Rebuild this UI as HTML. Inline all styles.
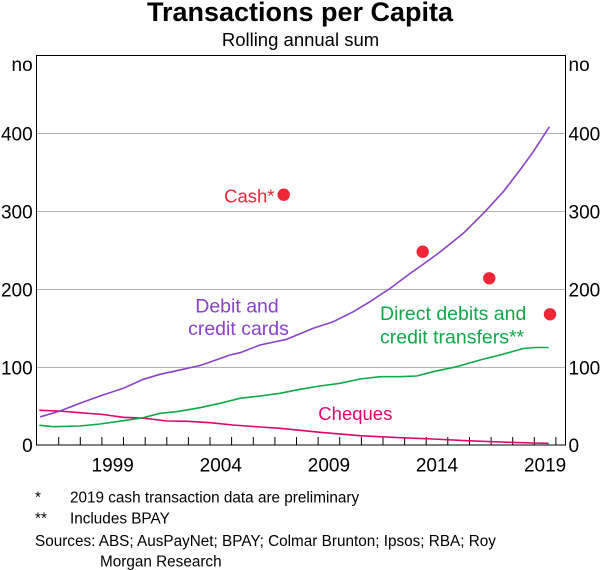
<!DOCTYPE html>
<html>
<head>
<meta charset="utf-8">
<style>
  html, body { margin: 0; padding: 0; background: #ffffff; }
  svg { display: block; }
  text { font-family: "Liberation Sans", Arial, sans-serif; }
</style>
</head>
<body>
<svg width="600" height="570" viewBox="0 0 600 570" xmlns="http://www.w3.org/2000/svg">
  <rect x="0" y="0" width="600" height="570" fill="#ffffff"/>

  <!-- Title -->
  <text x="300" y="21" text-anchor="middle" font-size="27" font-weight="bold" fill="#000">Transactions per Capita</text>
  <text x="300.5" y="46" text-anchor="middle" font-size="18.5" fill="#000">Rolling annual sum</text>

  <!-- Gridlines -->
  <g stroke="#b3b3b3" stroke-width="1">
    <line x1="36.5" y1="133.5" x2="565.5" y2="133.5"/>
    <line x1="36.5" y1="211.5" x2="565.5" y2="211.5"/>
    <line x1="36.5" y1="289.5" x2="565.5" y2="289.5"/>
    <line x1="36.5" y1="367.5" x2="565.5" y2="367.5"/>
  </g>

  <!-- Ticks -->
  <g stroke="#000" stroke-width="1">
    <line x1="58.7" y1="445" x2="58.7" y2="437"/>
    <line x1="80.3" y1="445" x2="80.3" y2="437"/>
    <line x1="101.9" y1="445" x2="101.9" y2="437"/>
    <line x1="123.5" y1="445" x2="123.5" y2="437"/>
    <line x1="145.2" y1="445" x2="145.2" y2="437"/>
    <line x1="166.8" y1="445" x2="166.8" y2="437"/>
    <line x1="188.4" y1="445" x2="188.4" y2="437"/>
    <line x1="210.0" y1="445" x2="210.0" y2="437"/>
    <line x1="231.6" y1="445" x2="231.6" y2="437"/>
    <line x1="253.3" y1="445" x2="253.3" y2="437"/>
    <line x1="274.9" y1="445" x2="274.9" y2="437"/>
    <line x1="296.5" y1="445" x2="296.5" y2="437"/>
    <line x1="318.1" y1="445" x2="318.1" y2="437"/>
    <line x1="339.7" y1="445" x2="339.7" y2="437"/>
    <line x1="361.4" y1="445" x2="361.4" y2="437"/>
    <line x1="383.0" y1="445" x2="383.0" y2="437"/>
    <line x1="404.6" y1="445" x2="404.6" y2="437"/>
    <line x1="426.2" y1="445" x2="426.2" y2="437"/>
    <line x1="447.8" y1="445" x2="447.8" y2="437"/>
    <line x1="469.5" y1="445" x2="469.5" y2="437"/>
    <line x1="491.1" y1="445" x2="491.1" y2="437"/>
    <line x1="512.7" y1="445" x2="512.7" y2="437"/>
    <line x1="534.3" y1="445" x2="534.3" y2="437"/>
    <line x1="555.9" y1="445" x2="555.9" y2="437"/>
  </g>

  <!-- Series -->
  <g fill="none" stroke-width="1.6" stroke-linejoin="round" stroke-linecap="round">
    <!-- Cheques -->
    <polyline stroke="#e0046a" points="40,410.3 58.7,411 80,412.7 103,414.5 123.3,417.3 145,418.3 166.7,421 187.5,421.3 210,422.7 233,425 260,427 280,428.3 320,432.3 360,435.7 400,437.7 433,439 466.7,440.7 500,442 533,443 548,443.3"/>
    <!-- Direct debits -->
    <polyline stroke="#10a94a" points="40,425.3 53.3,426.7 80,426 100,424 123.3,420.7 143.3,417.7 160,413.3 176.7,411.7 200,407.7 220,403.3 240,398.3 260,396 280,393.3 300,389.3 320,386 340,383.3 360,379 380,376.7 400,376.7 416.7,376 433.3,371.7 456.7,366.7 480,360 500,355 523.3,348.5 535,347.5 548,347.5"/>
    <!-- Cards -->
    <polyline stroke="#8a42c8" points="40.7,416.7 60,411 80,403.3 100,396 123.3,388.3 143.3,379.3 160,374.3 176.7,370.7 200,365.5 206.7,363.3 230,355 240,352.7 260,345 286.7,339.3 313.3,328.3 333.3,321.7 353.3,311.7 370,301.7 380,295 390,288.5 410,273.5 425,263 440,252 463.3,233.3 485,211.7 503.3,191.7 520,170 533.3,151.7 549,127.3"/>
  </g>

  <!-- Cash dots -->
  <g fill="#ee2636">
    <circle cx="283.7" cy="194.7" r="6.2"/>
    <circle cx="422.7" cy="251.7" r="6.2"/>
    <circle cx="489.3" cy="278.3" r="6.2"/>
    <circle cx="550" cy="314.3" r="6.2"/>
  </g>

  <!-- Plot border -->
  <rect x="36.5" y="55.5" width="529" height="389.5" fill="none" stroke="#000" stroke-width="1"/>

  <!-- Series labels -->
  <text x="274.5" y="202.3" text-anchor="end" font-size="18.5" fill="#ee2636">Cash*</text>
  <text x="237" y="312.3" text-anchor="middle" font-size="19.5" fill="#8a42c8">Debit and</text>
  <text x="238.5" y="335" text-anchor="middle" font-size="19.5" fill="#8a42c8">credit cards</text>
  <text x="380" y="320" font-size="19.5" fill="#10a94a">Direct debits and</text>
  <text x="380" y="343.5" font-size="19.5" fill="#10a94a">credit transfers**</text>
  <text x="318.3" y="420" font-size="18.5" fill="#e0046a">Cheques</text>

  <!-- Y axis labels left -->
  <g font-size="19" fill="#000" text-anchor="end">
    <text x="32.7" y="71">no</text>
    <text x="32.7" y="140.5">400</text>
    <text x="32.7" y="218.5">300</text>
    <text x="32.7" y="296.5">200</text>
    <text x="32.7" y="374.5">100</text>
    <text x="32.7" y="452">0</text>
  </g>
  <!-- Y axis labels right -->
  <g font-size="19" fill="#000" text-anchor="start">
    <text x="568.5" y="71">no</text>
    <text x="568.5" y="140.5">400</text>
    <text x="568.5" y="218.5">300</text>
    <text x="568.5" y="296.5">200</text>
    <text x="568.5" y="374.5">100</text>
    <text x="568.5" y="452">0</text>
  </g>

  <!-- X axis labels -->
  <g font-size="19" fill="#000" text-anchor="middle">
    <text x="112.7" y="471.7">1999</text>
    <text x="220.8" y="471.7">2004</text>
    <text x="328.9" y="471.7">2009</text>
    <text x="437.0" y="471.7">2014</text>
    <text x="545.1" y="471.7">2019</text>
  </g>

  <!-- Footnotes -->
  <g font-size="15.3" fill="#000">
    <text x="35" y="502.7">*</text>
    <text x="70" y="502.7">2019 cash transaction data are preliminary</text>
    <text x="35" y="523.3">**</text>
    <text x="70" y="523.3">Includes BPAY</text>
    <text x="35" y="546">Sources: ABS; AusPayNet; BPAY; Colmar Brunton; Ipsos; RBA; Roy</text>
    <text x="100" y="566.7">Morgan Research</text>
  </g>
</svg>
</body>
</html>
